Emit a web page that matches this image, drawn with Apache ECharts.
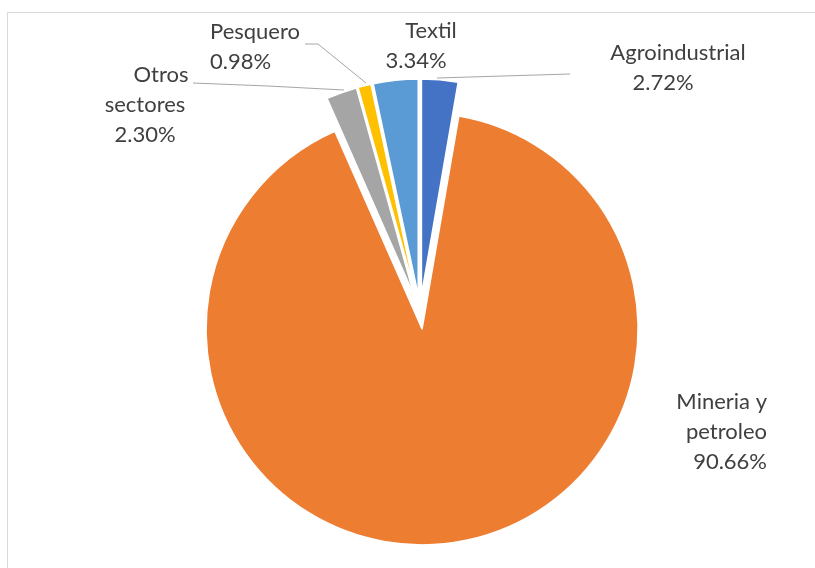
<!DOCTYPE html>
<html>
<head>
<meta charset="utf-8">
<script src="https://cdn.jsdelivr.net/npm/echarts@6/dist/echarts.min.js"></script>
<style>
html,body{margin:0;padding:0;background:#fff;}
#chart{width:815px;height:568px;}
</style>
</head>
<body>
<div id="chart"></div>
<script>
// ---- data ----
var categories = ['Agroindustrial', 'Mineria y petroleo', 'Otros sectores', 'Pesquero', 'Textil'];
var labelLines = [['Agroindustrial'], ['Mineria y', 'petroleo'], ['Otros', 'sectores'], ['Pesquero'], ['Textil']];
var shares = [2.72, 90.66, 2.30, 0.98, 3.34];
var colors = ['#4472C4', '#ED7D31', '#A5A5A5', '#FFC000', '#5B9BD5'];

// ---- label placement (styling only) ----
var labelPos = [
  {x: 663, y: 68, align: 'center', shift: 30, line: [[437, 78], [503, 76], [570, 74]]},
  {x: 767, y: 432, align: 'right', shift: 0, line: null},
  {x: 145, y: 105, align: 'center', shift: 32, line: [[344, 90], [268, 86], [193, 83]]},
  {x: 210, y: 47, align: 'left', shift: 0, line: [[366, 83], [318, 44], [305, 44]]},
  {x: 416, y: 46, align: 'center', shift: 30, line: null}
];

var FONT = {fontFamily: 'Lato', fontSize: 22, lineHeight: 30, color: '#404040'};

var chart = echarts.init(document.getElementById('chart'), null, {renderer: 'canvas'});

var slices = categories.map(function (c, i) {
  return {name: c, value: shares[i], selected: true, itemStyle: {color: colors[i]}};
});

var labelData = categories.map(function (c, i) {
  var lp = labelPos[i];
  return {
    name: c,
    value: shares[i],
    label: {
      align: lp.align,
      rich: {
        f: Object.assign({padding: [0, 0, 0, lp.shift], align: lp.align}, FONT),
        r: Object.assign({align: lp.align}, FONT)
      }
    },
    labelLine: {show: !!lp.line}
  };
});

chart.setOption({
  animation: false,
  backgroundColor: '#fff',
  graphic: [{
    type: 'rect',
    shape: {x: 7.5, y: 12.5, width: 830, height: 620},
    style: {fill: 'none', stroke: '#D9D9D9', lineWidth: 1},
    silent: true
  }],
  series: [{
    type: 'pie',
    center: [420, 312],
    radius: 216,
    startAngle: 90,
    clockwise: true,
    selectedMode: 'multiple',
    selectedOffset: 17,
    emphasis: {disabled: true},
    silent: true,
    itemStyle: {borderColor: '#fff', borderWidth: 1.5},
    label: {show: false},
    labelLine: {show: false},
    data: slices
  }, {
    // label carrier: same values, invisible sectors
    type: 'pie',
    center: [420, 312],
    radius: 216,
    startAngle: 90,
    clockwise: true,
    silent: true,
    avoidLabelOverlap: false,
    emphasis: {disabled: true},
    itemStyle: {color: 'rgba(0,0,0,0)', borderWidth: 0},
    label: Object.assign({
      show: true,
      position: 'outside',
      formatter: function (p) {
        var ls = labelLines[p.dataIndex];
        var out = ['{f|' + ls[0] + '}'];
        for (var k = 1; k < ls.length; k++) out.push('{r|' + ls[k] + '}');
        out.push('{r|' + shares[p.dataIndex].toFixed(2) + '%}');
        return out.join('\n');
      }
    }, FONT),
    labelLine: {show: true, lineStyle: {color: '#A6A6A6', width: 1}},
    labelLayout: function (params) {
      var lp = labelPos[params.dataIndex];
      var o = {x: lp.x, y: lp.y, align: lp.align, verticalAlign: 'middle'};
      if (lp.line) o.labelLinePoints = lp.line;
      return o;
    },
    data: labelData
  }]
});
</script>
</body>
</html>
